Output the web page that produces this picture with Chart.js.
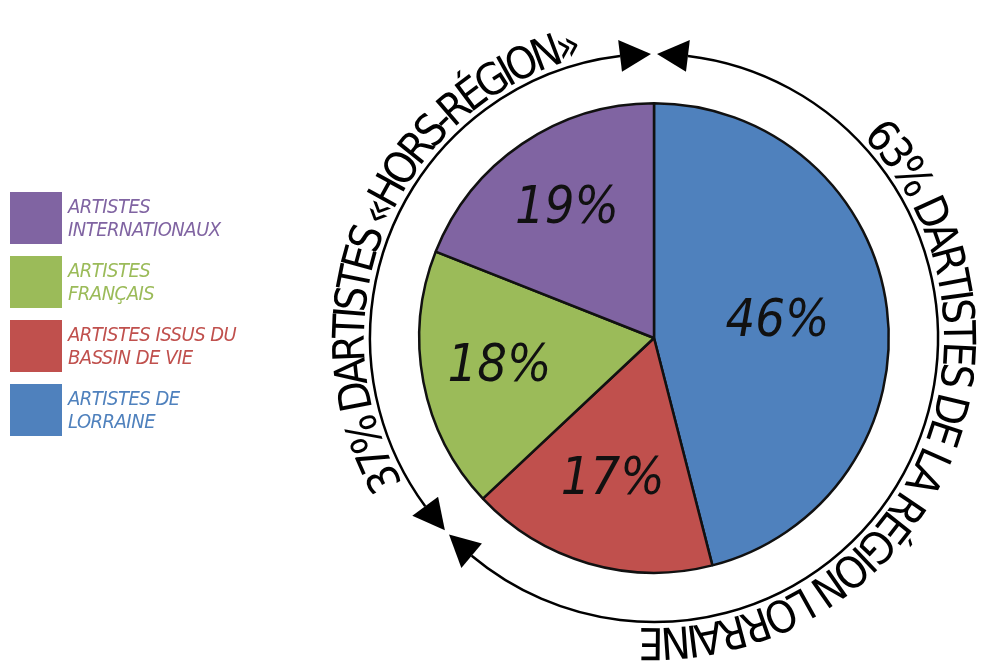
<!DOCTYPE html>
<html>
<head>
<meta charset="utf-8">
<script src="https://cdn.jsdelivr.net/npm/chart.js@4.4.1/dist/chart.umd.min.js"></script>
<style>
  body { margin: 0; background: #fff; }
  #wrap { position: relative; width: 984px; height: 671px; overflow: hidden; }
  #pie { position: absolute; left: 0; top: 0; }
  #legend { position: absolute; left: 10px; top: 192px; }
  .item { display: flex; height: 54px; margin-bottom: 10px; }
  .box { width: 52px; height: 52px; flex: none; }
  .txt {
    margin-left: 6px; padding-top: 3px;
    font: italic 20px/23px "Liberation Sans Narrow", "DejaVu Sans Condensed", sans-serif;
    white-space: pre-line; letter-spacing: -0.5px;
  }
</style>
</head>
<body>
<div id="wrap">
  <canvas id="pie" width="984" height="671"></canvas>
  <div id="legend"></div>
</div>
<script>
'use strict';

// slices, clockwise from the top
var categories = ['ARTISTES DE\nLORRAINE', 'ARTISTES ISSUS DU\nBASSIN DE VIE', 'ARTISTES\nFRANÇAIS', 'ARTISTES\nINTERNATIONAUX'];
var shares = [46, 17, 18, 19];
var sliceColors = ['#4F81BD', '#C0504D', '#9BBB59', '#8064A2'];

// the two groups shown on the outer ring
var groupTexts = ['63% DARTISTES DE LA RÉGION LORRAINE', '37% DARTISTES «HORS-RÉGION»'];
var groupShares = [63, 37];

var handFont = '"Liberation Sans Narrow", "DejaVu Sans Condensed", sans-serif';

function pt(cx, cy, r, a) {
  return { x: cx + r * Math.sin(a), y: cy - r * Math.cos(a) };
}

// text along the ring, read clockwise, tops pointing outward
function curvedText(ctx, text, cx, cy, r, a0, a1) {
  var chars = Array.from(text);
  var widths = chars.map(function(c) { return ctx.measureText(c).width; });
  var total = widths.reduce(function(s, w) { return s + w; }, 0);
  var gap = ((a1 - a0) * r - total) / (chars.length - 1);
  var run = 0;
  for (var i = 0; i < chars.length; i++) {
    var a = a0 + (run + widths[i] / 2) / r;
    var p = pt(cx, cy, r, a);
    ctx.save();
    ctx.translate(p.x, p.y);
    ctx.rotate(a);
    ctx.fillText(chars[i], 0, 0);
    ctx.restore();
    run += widths[i] + gap;
  }
}

function arrowHead(ctx, cx, cy, r, tipA, dir) {
  // dir = +1 : arrow points clockwise, -1 : counterclockwise
  var len = 31, half = 16;
  var tip = pt(cx, cy, r, tipA);
  var baseA = tipA - dir * len / r;
  var b1 = pt(cx, cy, r - half, baseA);
  var b2 = pt(cx, cy, r + half, baseA);
  ctx.beginPath();
  ctx.moveTo(tip.x, tip.y);
  ctx.lineTo(b1.x, b1.y);
  ctx.lineTo(b2.x, b2.y);
  ctx.closePath();
  ctx.fill();
}

var ringPlugin = {
  id: 'ring',
  afterDraw: function(chart) {
    var ctx = chart.ctx;
    var arc = chart.getDatasetMeta(0).data[0];
    var cx = arc.x, cy = arc.y;
    var r = arc.outerRadius * 1.21;
    var split = groupShares[0] / 100 * Math.PI * 2;
    var tipGap = 3 / r, headLen = 31 / r;
    ctx.save();
    ctx.strokeStyle = '#000';
    ctx.fillStyle = '#000';
    ctx.lineWidth = 2.5;
    ctx.beginPath();
    ctx.arc(cx, cy, r, tipGap + headLen - Math.PI / 2, split - tipGap - headLen - Math.PI / 2);
    ctx.stroke();
    ctx.beginPath();
    ctx.arc(cx, cy, r, split + tipGap + headLen - Math.PI / 2, Math.PI * 2 - tipGap - headLen - Math.PI / 2);
    ctx.stroke();
    arrowHead(ctx, cx, cy, r, tipGap, -1);
    arrowHead(ctx, cx, cy, r, split - tipGap, 1);
    arrowHead(ctx, cx, cy, r, split + tipGap, -1);
    arrowHead(ctx, cx, cy, r, Math.PI * 2 - tipGap, 1);

    ctx.font = '44px ' + handFont;
    ctx.textAlign = 'center';
    ctx.textBaseline = 'alphabetic';
    var rad = Math.PI / 180;
    curvedText(ctx, groupTexts[0], cx, cy, r + 6, 46 * rad, 183 * rad);
    curvedText(ctx, groupTexts[1], cx, cy, r + 6, 240 * rad, 346 * rad);
    ctx.restore();
  }
};

var valuePlugin = {
  id: 'values',
  afterDatasetsDraw: function(chart, args, opts) {
    var ctx = chart.ctx;
    var meta = chart.getDatasetMeta(0);
    ctx.save();
    ctx.font = 'italic 52px ' + handFont;
    ctx.fillStyle = '#111';
    ctx.textAlign = 'center';
    ctx.textBaseline = 'middle';
    meta.data.forEach(function(el, i) {
      var p = el.getProps(['x', 'y', 'startAngle', 'endAngle', 'outerRadius']);
      var mid = (p.startAngle + p.endAngle) / 2;
      var rr = p.outerRadius * opts.ratios[i];
      ctx.fillText(shares[i] + '%', p.x + rr * Math.cos(mid), p.y + rr * Math.sin(mid));
    });
    ctx.restore();
  }
};

var pieChart = new Chart(document.getElementById('pie').getContext('2d'), {
  type: 'pie',
  data: {
    labels: categories,
    datasets: [{
      data: shares,
      backgroundColor: sliceColors,
      borderColor: '#111',
      borderWidth: 2.5
    }]
  },
  options: {
    responsive: false,
    animation: false,
    events: [],
    layout: { padding: { left: 418, top: 102, right: 94, bottom: 97 } },
    plugins: {
      legend: { display: false },
      tooltip: { enabled: false },
      values: { ratios: [0.53, 0.63, 0.67, 0.66] }
    }
  },
  plugins: [valuePlugin, ringPlugin]
});

// legend, listed from the last slice up
var legendEl = document.getElementById('legend');
for (var i = categories.length - 1; i >= 0; i--) {
  var item = document.createElement('div');
  item.className = 'item';
  var box = document.createElement('div');
  box.className = 'box';
  box.style.background = sliceColors[i];
  var txt = document.createElement('div');
  txt.className = 'txt';
  txt.style.color = sliceColors[i];
  txt.textContent = categories[i];
  item.appendChild(box);
  item.appendChild(txt);
  legendEl.appendChild(item);
}
</script>
</body>
</html>
